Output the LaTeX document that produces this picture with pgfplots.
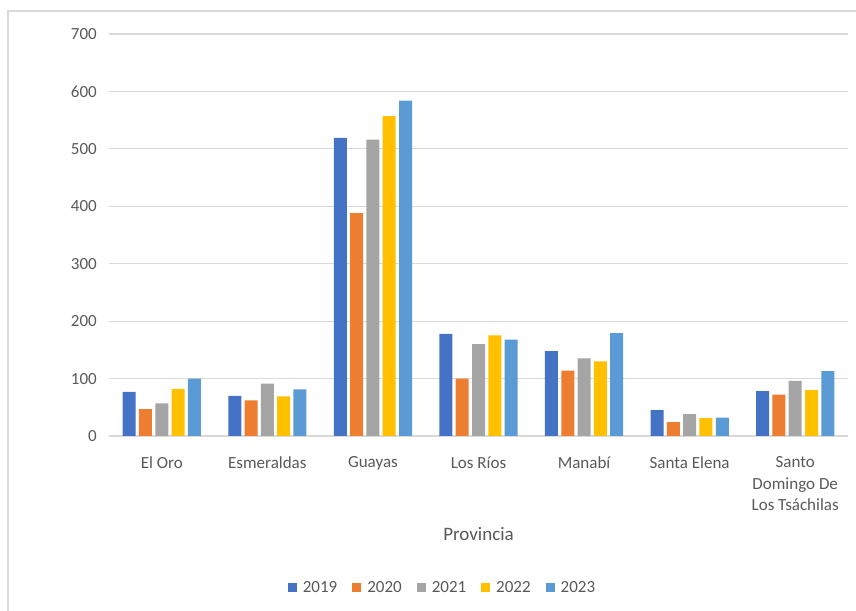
\documentclass[border=0pt]{standalone}
\usepackage{fontspec}
\setmainfont{Carlito}
\usepackage{pgfplots}
\pgfplotsset{compat=1.18}

\definecolor{c2019}{HTML}{4472C4}
\definecolor{c2020}{HTML}{ED7D31}
\definecolor{c2021}{HTML}{A5A5A5}
\definecolor{c2022}{HTML}{FFC000}
\definecolor{c2023}{HTML}{5B9BD5}
\definecolor{txt}{HTML}{595959}
\definecolor{gridc}{HTML}{D9D9D9}

\begin{document}
\begin{tikzpicture}[x=1pt,y=1pt]
\path[use as bounding box, clip] (0,0) rectangle (856,610);
\draw[gridc, line width=1.2pt] (8,-10) rectangle (880,599);
\begin{axis}[
  at={(109pt,174pt)}, anchor=south west,
  scale only axis, width=739pt, height=402pt,
  ymin=0, ymax=700, ytick={0,100,...,700},
  xmin=-0.5, xmax=6.5, xtick={0,...,6},
  xticklabels={El Oro, Esmeraldas, Guayas, Los Ríos, Manabí, Santa Elena,
    {Santo\\Domingo De\\Los Tsáchilas}},
  ybar=3.3pt, bar width=13pt,
  axis line style={draw=none},
  tick style={draw=none},
  ymajorgrids, grid style={gridc, line width=1.1pt},
  /pgf/number format/assume math mode=true,
  ticklabel style={font=\fontsize{17}{21.5}\selectfont, text=txt},
  xticklabel style={align=center, anchor=north, inner sep=0pt, yshift=-16pt},
  yticklabel style={anchor=east, inner sep=0pt, xshift=-12pt},
  xlabel={Provincia},
  xlabel style={font=\fontsize{19}{22}\selectfont, text=txt,
    at={(axis description cs:0.5,-0.261)}, anchor=base},
  legend columns=5,
  legend style={draw=none, fill=none, at={(0.4513,-0.378)}, anchor=center,
    font=\fontsize{17}{20}\selectfont, text=txt,
    /tikz/every odd column/.append style={column sep=4pt},
    /tikz/every even column/.append style={column sep=13pt},
    inner sep=0pt},
  legend image code/.code={\fill[#1] (0pt,-4.5pt) rectangle (9pt,4.5pt);},
]
\addplot[fill=c2019, draw=none] coordinates {(0,77) (1,70) (2,519) (3,178) (4,148) (5,45) (6,78)};
\addplot[fill=c2020, draw=none] coordinates {(0,47) (1,62) (2,388) (3,100) (4,114) (5,24) (6,72)};
\addplot[fill=c2021, draw=none] coordinates {(0,57) (1,91) (2,516) (3,160) (4,135) (5,38) (6,96)};
\addplot[fill=c2022, draw=none] coordinates {(0,82) (1,69) (2,557) (3,175) (4,130) (5,31) (6,80)};
\addplot[fill=c2023, draw=none] coordinates {(0,100) (1,81) (2,584) (3,168) (4,179) (5,32) (6,113)};
\legend{2019,2020,2021,2022,2023}
\end{axis}
\end{tikzpicture}
\end{document}
